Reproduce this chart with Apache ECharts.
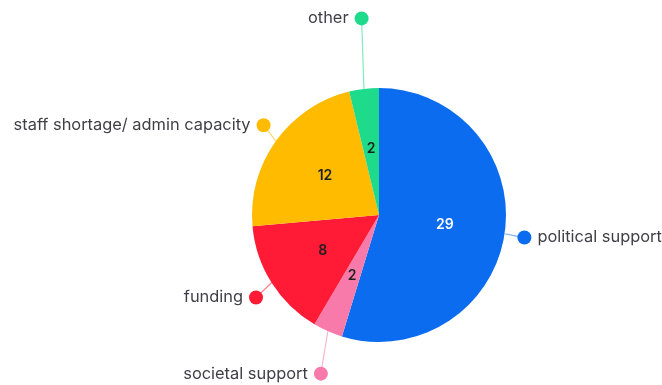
<!DOCTYPE html>
<html>
<head>
<meta charset="utf-8">
<script src="https://cdn.jsdelivr.net/npm/echarts@6/dist/echarts.min.js"></script>
<style>
  html, body { margin: 0; padding: 0; background: #ffffff; }
  #chart { width: 662px; height: 385px; }
</style>
</head>
<body>
<div id="chart"></div>
<script>
// Reasons given, in clockwise order from 12 o'clock
const categories = ['political support', 'societal support', 'funding', 'staff shortage/ admin capacity', 'other'];
const values = [29, 2, 8, 12, 2];

// Slice palette and per-slice styling
const palette = ['#0b6cf0', '#f87aab', '#ff1a35', '#ffbb00', '#1edb8c'];
const valueColors = ['#ffffff', '#1f1f1f', '#1f1f1f', '#1f1f1f', '#1f1f1f'];
const leaderLengths = [19, 42, 22, 20, 71];
const rightSide = [true, false, false, false, false];
// small nudges of each callout end point (dx, dy)
const nudges = [[1, 1], [10, 4], [3, 3], [4, -4], [6, 0]];

const FONT = 'Inter, "Noto Sans", sans-serif';

const outerData = categories.map((name, i) => {
  const rich = {
    dot: { width: 14, height: 14, borderRadius: 7, backgroundColor: palette[i] },
    gap: { width: 6 },
    txt: { fontFamily: FONT, fontSize: 16.4, color: '#3e3e46', lineHeight: 20 }
  };
  return {
    name,
    value: values[i],
    itemStyle: { color: palette[i] },
    labelLine: {
      length: leaderLengths[i],
      length2: 0,
      lineStyle: { color: palette[i], opacity: 0.55, width: 1.2 }
    },
    label: {
      rich,
      formatter: rightSide[i] ? '{dot| }{gap| }{txt|{b}}' : '{txt|{b}}{gap| }{dot| }'
    }
  };
});

const innerData = categories.map((name, i) => ({
  name,
  value: values[i],
  label: { color: valueColors[i] }
}));

const chart = echarts.init(document.getElementById('chart'), null, { renderer: 'canvas' });
chart.setOption({
  animation: false,
  backgroundColor: '#ffffff',
  series: [
    {
      type: 'pie',
      center: [379, 215],
      radius: [0, 127],
      startAngle: 90,
      clockwise: true,
      avoidLabelOverlap: false,
      silent: true,
      itemStyle: { borderWidth: 0 },
      label: {
        show: true,
        position: 'outside',
        distanceToLabelLine: -7,
        alignTo: 'none'
      },
      labelLine: { show: true, smooth: false },
      labelLayout: function (params) {
        const n = nudges[params.dataIndex];
        const pts = params.labelLinePoints;
        if (!pts || !n) return {};
        const moved = pts.map(p => [p[0], p[1]]);
        const last = moved.length - 1;
        moved[last] = [moved[last][0] + n[0], moved[last][1] + n[1]];
        if (last >= 2) moved[1] = [moved[1][0] + n[0], moved[1][1] + n[1]];
        return { dx: n[0], dy: n[1], labelLinePoints: moved };
      },
      data: outerData
    },
    {
      type: 'pie',
      center: [379, 215],
      radius: [0, 127],
      startAngle: 90,
      clockwise: true,
      silent: true,
      z: 3,
      itemStyle: { color: 'transparent', borderWidth: 0 },
      label: {
        show: true,
        position: 'inside',
        formatter: '{c}',
        fontFamily: FONT,
        fontSize: 14,
        fontWeight: 600
      },
      labelLine: { show: false },
      data: innerData
    }
  ]
});
</script>
</body>
</html>
